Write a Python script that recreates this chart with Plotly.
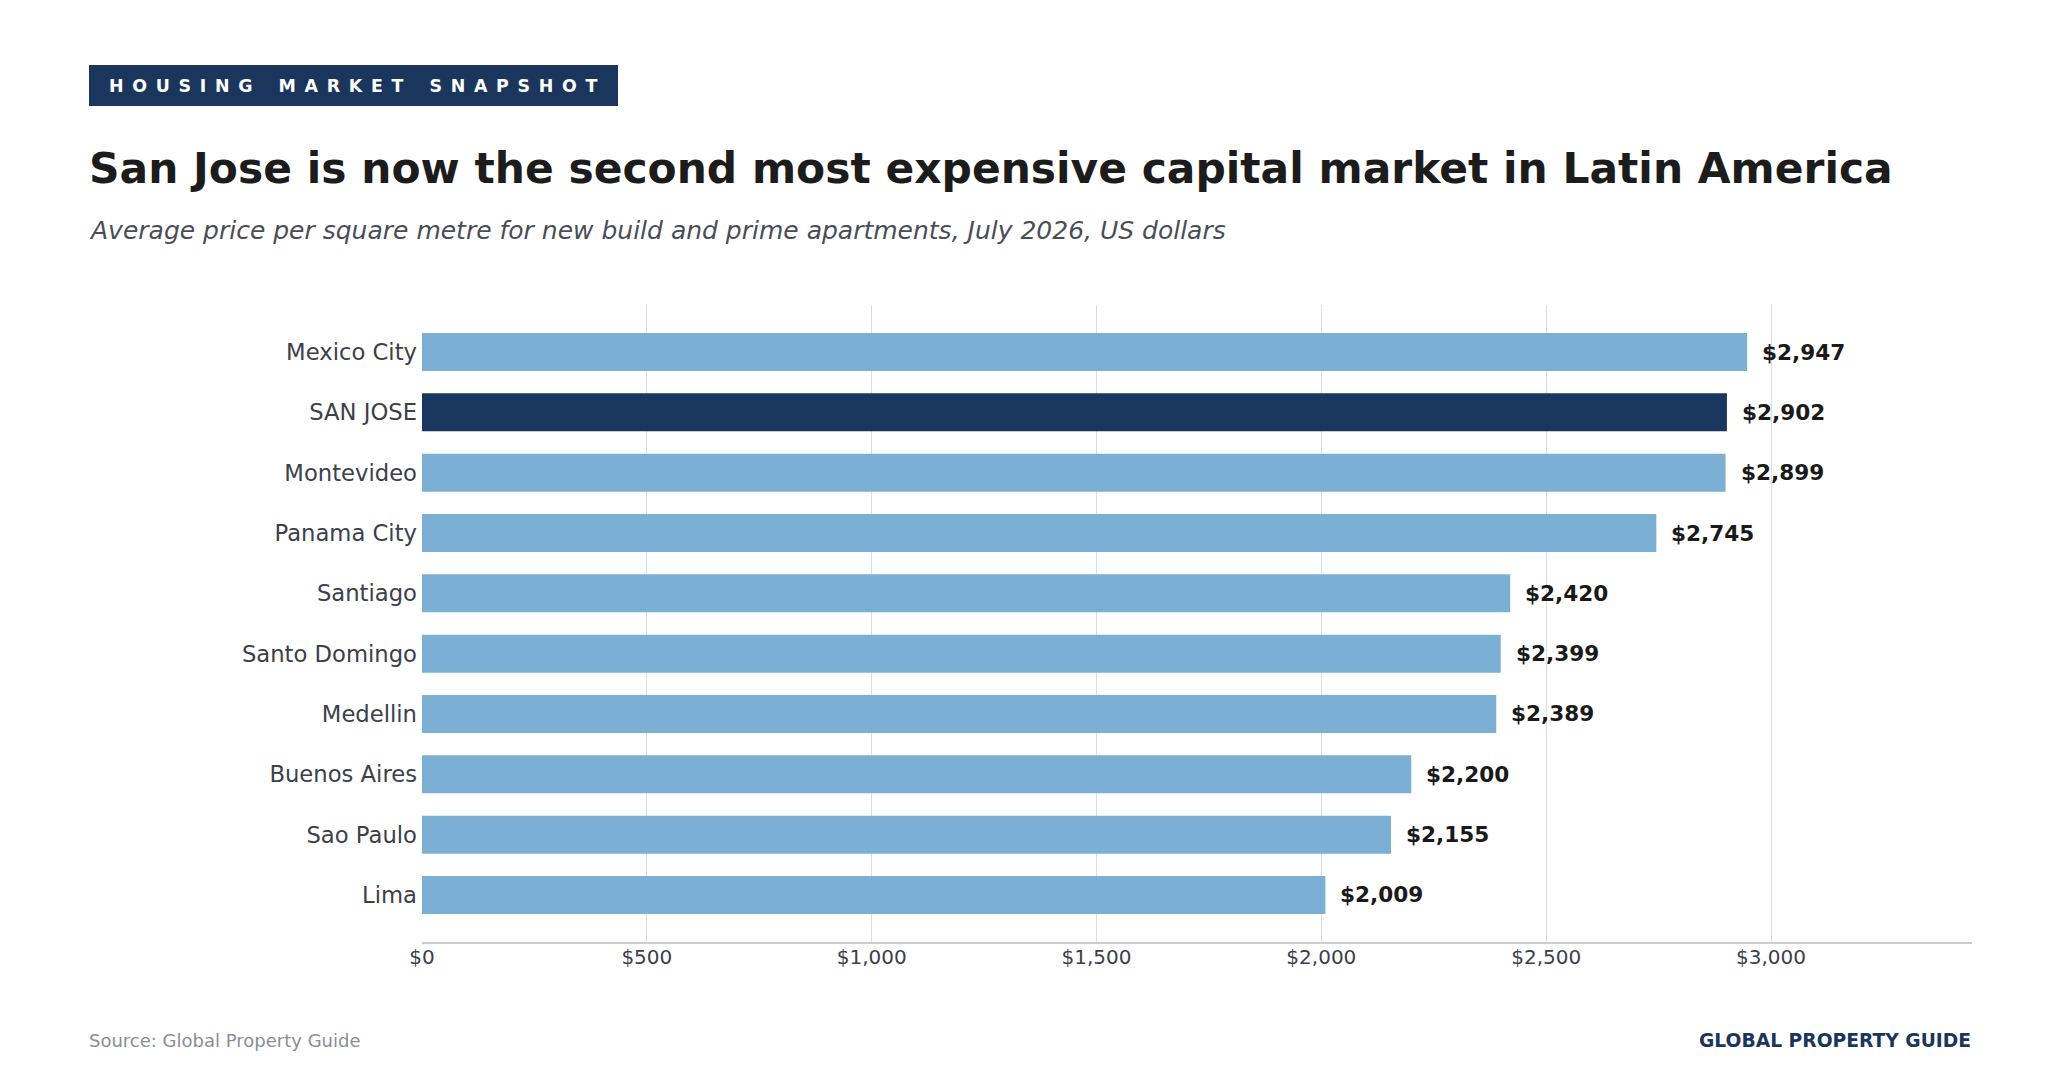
import plotly.graph_objects as go

cities = ["Mexico City", "SAN JOSE", "Montevideo", "Panama City", "Santiago",
          "Santo Domingo", "Medellin", "Buenos Aires", "Sao Paulo", "Lima"]
prices = [2947, 2902, 2899, 2745, 2420, 2399, 2389, 2200, 2155, 2009]
highlight = "SAN JOSE"
x_ticks = [0, 500, 1000, 1500, 2000, 2500, 3000]
x_tick_labels = ["$0", "$500", "$1,000", "$1,500", "$2,000", "$2,500", "$3,000"]

badge_text = "HOUSING MARKET SNAPSHOT"
title_text = "San Jose is now the second most expensive capital market in Latin America"
subtitle_text = "Average price per square metre for new build and prime apartments, July 2026, US dollars"
source_text = "Source: Global Property Guide"
brand_text = "GLOBAL PROPERTY GUIDE"

LIGHT = "#7bafd4"
DARK = "#19365e"
NAVY = "#1b365d"

W, H = 2060, 1090
L, R, T, B = 422, 88, 305, 148
PW, PH = W - L - R, H - T - B


def px(xp):
    return (xp - L) / PW


def py(yp):
    return (H - B - yp) / PH


colors = [DARK if c == highlight else LIGHT for c in cities]

fig = go.Figure()
fig.add_trace(go.Bar(
    y=cities, x=prices, orientation="h", width=0.63,
    marker=dict(color=colors, line=dict(width=0)),
    hoverinfo="skip",
))

font_family = "DejaVu Sans"

annotations = []
for c, v in zip(cities, prices):
    annotations.append(dict(
        x=v, y=c, xref="x", yref="y", text=f"${v:,}", showarrow=False,
        xanchor="left", yanchor="middle", xshift=13,
        font=dict(family=font_family, size=21.6, color="#1a1a1a", weight="bold"),
    ))

EN = "\u2002"
spaced = (EN * 3).join(EN.join(word) for word in badge_text.split(" "))
annotations += [
    dict(x=px(108), y=py(86), xref="paper", yref="paper", text=spaced, showarrow=False,
         xanchor="left", yanchor="middle", borderpad=0,
         font=dict(family=font_family, size=17.4, color="white", weight="bold")),
    dict(x=px(88), y=py(168), xref="paper", yref="paper", text=title_text, showarrow=False,
         xanchor="left", yanchor="middle", borderpad=0,
         font=dict(family=font_family, size=42.4, color="#1c1c1c", weight="bold")),
    dict(x=px(88), y=py(231), xref="paper", yref="paper", text=subtitle_text, showarrow=False,
         xanchor="left", yanchor="middle", borderpad=0,
         font=dict(family=font_family, size=25, color="#4a4d58", style="italic")),
    dict(x=px(88), y=py(1040), xref="paper", yref="paper", text=source_text, showarrow=False,
         xanchor="left", yanchor="middle", borderpad=0,
         font=dict(family=font_family, size=18, color="#8a8e96")),
    dict(x=px(1972), y=py(1040), xref="paper", yref="paper", text=brand_text, showarrow=False,
         xanchor="right", yanchor="middle", borderpad=0,
         font=dict(family=font_family, size=18.7, color=NAVY, weight="bold")),
]

shapes = [dict(type="rect", xref="paper", yref="paper",
               x0=px(89), x1=px(618), y0=py(106), y1=py(65),
               fillcolor=NAVY, line=dict(width=0), layer="below")]

n = len(cities)
fig.update_layout(
    width=W, height=H, autosize=False,
    margin=dict(l=L, r=R, t=T, b=B, pad=0),
    paper_bgcolor="white", plot_bgcolor="white",
    showlegend=False,
    font=dict(family=font_family),
    annotations=annotations, shapes=shapes,
    xaxis=dict(
        range=[0, 3447], tickvals=x_ticks, ticktext=x_tick_labels,
        showgrid=True, gridcolor="#dcdde0", gridwidth=1,
        zeroline=False, showline=True, linecolor="#c9cdd3", linewidth=2,
        ticks="", ticklabelstandoff=-4,
        tickfont=dict(family=font_family, size=20, color="#3c404a"),
        fixedrange=True,
    ),
    yaxis=dict(
        type="category", categoryorder="array", categoryarray=cities,
        range=[n - 1 + 0.78, -0.78],
        showgrid=False, zeroline=False, showline=False,
        ticks="", ticklabelstandoff=4,
        tickfont=dict(family=font_family, size=22.7, color="#3c404a"),
        fixedrange=True,
    ),
)

fig.write_html("out.html", config={"displayModeBar": False},
               post_script="document.body.style.margin='0';document.body.style.overflow='hidden';")
